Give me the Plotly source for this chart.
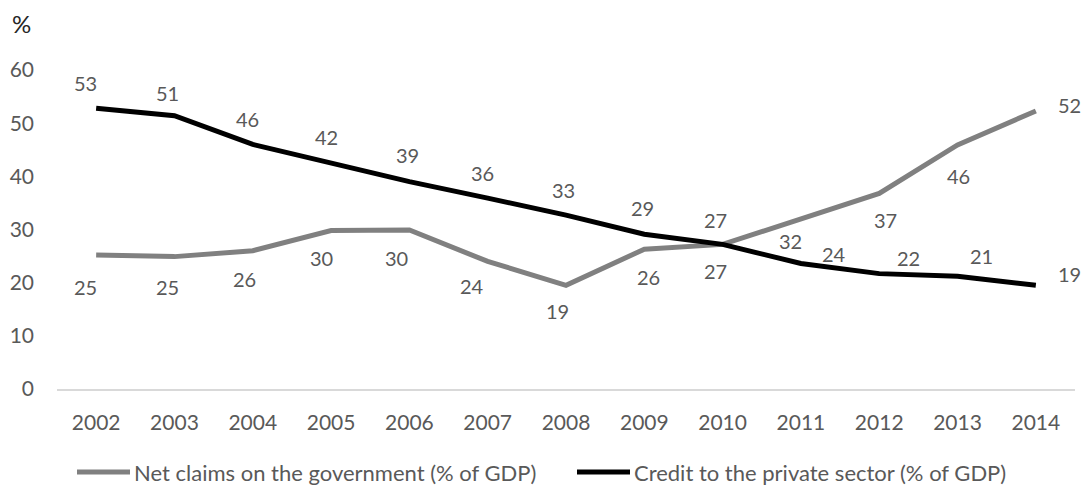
import plotly.graph_objects as go

years = ["2002", "2003", "2004", "2005", "2006", "2007", "2008",
         "2009", "2010", "2011", "2012", "2013", "2014"]
net_claims = [25.2, 24.9, 26.0, 29.8, 29.9, 24.0, 19.5, 26.3, 27.2, 32.0, 36.8, 45.9, 52.3]
credit_private = [52.8, 51.4, 46.0, 42.5, 39.0, 35.9, 32.7, 29.1, 27.2, 23.6, 21.7, 21.2, 19.5]
net_labels = ["25", "25", "26", "30", "30", "24", "19", "26", "27", "32", "37", "46", "52"]
credit_labels = ["53", "51", "46", "42", "39", "36", "33", "29", "27", "24", "22", "21", "19"]
series_names = ["Net claims on the government (% of GDP)",
                "Credit to the private sector (% of GDP)"]
series_colors = ["#808080", "#000000"]

# label offsets in pixels (style only)
net_off = [(-11, -32), (-7, -30), (-8, -28), (-10, -27), (-13, -28), (-16, -25), (-9, -26),
           (4, -28), (-7, -27), (-10, -22), (6, -27), (1, -31), (34, 6)]
credit_off = [(-11, 25), (-7, 23), (-5, 25), (-5, 26), (-2, 27), (-5, 25), (-3, 25),
              (-2, 26), (-7, 24), (33, 10), (29, 16), (24, 20), (34, 11)]

FONT = "Lato"
TXT = "#595959"
L, R, T, B = 57, 9, 70, 99
PW, PH = 1084 - L - R, 488 - T - B


def px_x(p):
    return (p - L) / PW


def px_y(p):
    return (488 - B - p) / PH


fig = go.Figure()
for vals, name, col in zip([net_claims, credit_private], series_names, series_colors):
    fig.add_trace(go.Scatter(x=years, y=vals, mode="lines", name=name,
                             line=dict(color=col, width=5), showlegend=False))

anns = []
for i, (v, t, (dx, dy)) in enumerate(zip(net_claims, net_labels, net_off)):
    anns.append(dict(x=i, y=v, xref="x", yref="y", text=t, showarrow=False,
                     xshift=dx, yshift=dy,
                     font=dict(family=FONT, size=20, color=TXT)))
for i, (v, t, (dx, dy)) in enumerate(zip(credit_private, credit_labels, credit_off)):
    anns.append(dict(x=i, y=v, xref="x", yref="y", text=t, showarrow=False,
                     xshift=dx, yshift=dy,
                     font=dict(family=FONT, size=20, color=TXT)))
anns.append(dict(x=px_x(10), y=px_y(24), xref="paper", yref="paper",
                 xanchor="left", yanchor="middle", text="%", showarrow=False,
                 font=dict(family=FONT, size=24, color="#262626")))

# manual legend
shapes = []
leg_y = px_y(472)
for (x0, x1), name, col in zip([(77, 130), (577, 630)], series_names, series_colors):
    shapes.append(dict(type="line", xref="paper", yref="paper", x0=px_x(x0), x1=px_x(x1),
                       y0=leg_y, y1=leg_y, line=dict(color=col, width=5)))
    anns.append(dict(x=px_x(x1 + 2), y=leg_y, xref="paper", yref="paper",
                     xanchor="left", yanchor="middle", text=name, showarrow=False,
                     font=dict(family=FONT, size=22, color=TXT)))

fig.update_layout(
    width=1084, height=488,
    margin=dict(l=L, r=R, t=T, b=B),
    paper_bgcolor="white", plot_bgcolor="white",
    showlegend=False,
    xaxis=dict(type="category", range=[-0.5, 12.5], showgrid=False, showline=True,
               linecolor="#D9D9D9", linewidth=2, ticks="", ticklabelstandoff=14,
               tickfont=dict(family=FONT, size=21, color=TXT), zeroline=False,
               fixedrange=True),
    yaxis=dict(range=[0, 60], dtick=10, showgrid=False, showline=False, zeroline=False,
               ticks="", ticklabelstandoff=22,
               tickfont=dict(family=FONT, size=21, color=TXT), fixedrange=True),
    annotations=anns,
    shapes=shapes,
)

fig.write_html("out.html")
